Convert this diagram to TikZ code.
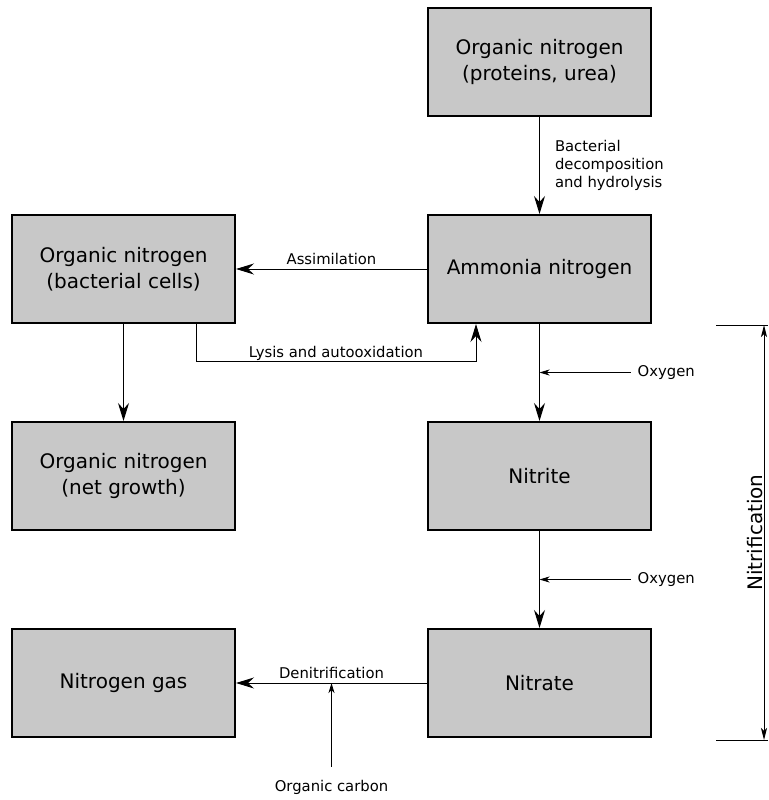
\documentclass[tikz,border=0pt]{standalone}
\usepackage{fontspec}
\setmainfont{DejaVu Sans}
\usetikzlibrary{arrows.meta}
\definecolor{boxgray}{RGB}{200,200,200}
\begin{document}
\begin{tikzpicture}[x=1pt, y=-1pt,
    box/.style={draw, line width=2pt, fill=boxgray, minimum width=223pt, minimum height=108pt,
        align=center, font=\fontsize{20}{26}\selectfont},
    lbl/.style={font=\fontsize{14.8}{18}\selectfont, inner sep=0pt},
    flow/.style={line width=1pt, -{Stealth[length=18pt, width=11pt, inset=6pt]}},
    feed/.style={line width=0.9pt, -{Stealth[length=10pt, width=6pt, inset=3pt]}},
    dim/.style={line width=1pt, {Stealth[length=12pt, width=6pt, inset=3pt]}-{Stealth[length=12pt, width=6pt, inset=3pt]}}]
\useasboundingbox (0,0) rectangle (768,800);

% boxes
\node[box] (orgn)    at (539.5,62)  {Organic nitrogen\\(proteins, urea)};
\node[box] (ammonia) at (539.5,269) {Ammonia nitrogen};
\node[box] (cells)   at (123.5,269) {Organic nitrogen\\(bacterial cells)};
\node[box] (growth)  at (123.5,476) {Organic nitrogen\\(net growth)};
\node[box] (nitrite) at (539.5,476) {Nitrite};
\node[box] (gas)     at (123.5,683) {Nitrogen gas};
\node[box] (nitrate) at (539.5,683) {Nitrate};

% main flows
\draw[flow] (orgn) -- (ammonia)
    node[lbl, midway, anchor=west, align=left, xshift=15pt] {Bacterial\\decomposition\\and hydrolysis};
\draw[flow] (ammonia) -- (cells) node[lbl, midway, anchor=base, yshift=5pt] {Assimilation};
\draw[flow] ([xshift=72.5pt]cells.south) -- ++(0,37) -| ([xshift=-63.5pt]ammonia.south)
    node[lbl, pos=0.25, anchor=base, yshift=4pt] {Lysis and autooxidation};
\draw[flow] (cells) -- (growth);
\draw[flow] (ammonia) -- (nitrite) coordinate[midway] (ox1);
\draw[flow] (nitrite) -- (nitrate) coordinate[midway] (ox2);
\draw[flow] (nitrate) -- (gas) coordinate[midway] (den)
    node[lbl, midway, anchor=base, yshift=5pt] {Denitrification};

% side inputs
\foreach \o in {ox1,ox2}
{
    \node[lbl, anchor=west] (\o lbl) at ([xshift=98pt]\o) {Oxygen};
    \draw[feed] ([xshift=-7pt]\o lbl.west) -- (\o);
}
\node[lbl] (carbon) at ([yshift=-104pt]den) {Organic carbon};
\draw[feed] ([yshift=13pt]carbon.north) -- (den);

% nitrification span
\coordinate (ntop) at (764,325);
\coordinate (nbot) at (764,740);
\draw[line width=1pt] ([xshift=-48pt]ntop) -- ++(52,0);
\draw[line width=1pt] ([xshift=-48pt]nbot) -- ++(52,0);
\draw[dim] (ntop) -- (nbot)
    node[midway, rotate=90, anchor=base, inner sep=0pt, yshift=2pt, font=\fontsize{20}{26}\selectfont] {Nitrification};

\end{tikzpicture}
\end{document}
